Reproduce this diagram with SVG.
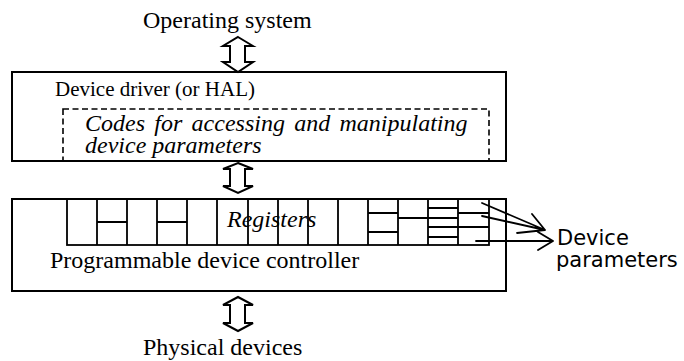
<svg xmlns="http://www.w3.org/2000/svg" width="684" height="361" viewBox="0 0 684 361">
<style>
.box{fill:none;stroke:#000;stroke-width:2}
.dash{fill:none;stroke:#000;stroke-width:1.6;stroke-dasharray:6 3.5}
.reg{fill:none;stroke:#000;stroke-width:1.8}
.dbl{fill:#fff;stroke:#000;stroke-width:2;stroke-linejoin:miter}
.t{font-family:"Liberation Serif","Times New Roman",serif;font-size:24px;fill:#000}
.i{font-style:italic}
.h{font-family:"DejaVu Sans","Comic Sans MS",sans-serif;font-size:21px;fill:#000}
.ln{fill:none;stroke:#000;stroke-width:1.8;stroke-linecap:round;stroke-linejoin:round}
</style>
<rect width="684" height="361" fill="#fff"/>
<g id="os"><text class="t" x="143" y="28">Operating system</text></g>
<g id="driver">
<rect class="box" x="12" y="72" width="494" height="89"/>
<text class="t" x="55" y="96" style="font-size:21px">Device driver (or HAL)</text>
<rect class="dash" x="63" y="109" width="426" height="52"/>
<text class="t i" x="85" y="131" word-spacing="3.3">Codes for accessing and manipulating</text>
<text class="t i" x="85" y="153">device parameters</text>
</g>
<g id="controller">
<rect class="box" x="12" y="199" width="494" height="92"/>
<rect class="reg" x="67" y="199" width="422" height="46"/>
<path class="reg" d="M97 199V245M127 199V245M157 199V245M187 199V245M217 199V245M248 199V245M278 199V245M308 199V245M338 199V245M368 199V245M398 199V245M428 199V245M458 199V245
M97 222H127M157 222H187
M368 213H398M368 232H398
M398 218H428
M428 208H458M428 218H458M428 227H458M428 237H458
M458 213H489M458 227H489"/>
<text class="t i" x="227" y="227">Registers</text>
<text class="t" x="50" y="268">Programmable device controller</text>
</g>
<g id="physical"><text class="t" x="143" y="355">Physical devices</text></g>
<g id="params"><text class="h" x="557" y="245">Device</text><text class="h" x="556" y="267">parameters</text></g>
<g id="connectors">
<polygon class="dbl" points="238,37 253,46 245,46 245,62 253,62 238,72 223,62 230,62 230,46 223,46"/>
<polygon class="dbl" points="238,163 253,169 245,169 245,186 253,186 238,193 223,186 230,186 230,169 223,169"/>
<polygon class="dbl" points="238,297 253,305 245,305 245,323 253,323 238,331 223,323 230,323 230,305 223,305"/>
<path class="ln" d="M482 203L545 230M482 216L545 230M532 214L545 230L517 233M476 241H553M538 232L553 241L538 250"/>
</g>
</svg>
